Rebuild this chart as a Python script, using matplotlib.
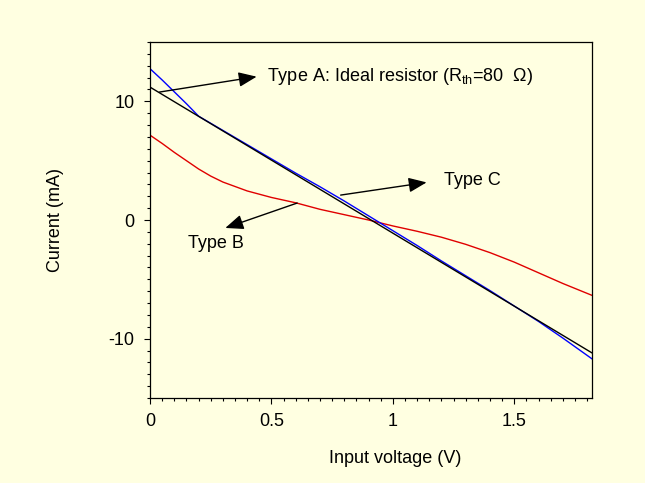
import matplotlib
matplotlib.use("Agg")
import matplotlib.pyplot as plt
from matplotlib.ticker import MultipleLocator

plt.rcParams["font.family"] = ["Liberation Sans", "DejaVu Sans"]
plt.rcParams["mathtext.fontset"] = "custom"
plt.rcParams["mathtext.rm"] = "Liberation Sans"
plt.rcParams["mathtext.it"] = "Liberation Sans:italic"
plt.rcParams["axes.unicode_minus"] = False

# values
volt = [0, 0.05, 0.1, 0.15, 0.2, 0.25, 0.3, 0.4, 0.5, 0.6, 0.7, 0.8, 0.9,
        1.0, 1.1, 1.2, 1.3, 1.4, 1.5, 1.6, 1.7, 1.82]
type_b = [7.15, 6.45, 5.7, 5.0, 4.3, 3.7, 3.2, 2.45, 1.9, 1.45, 0.9, 0.45, 0.0,
          -0.5, -0.95, -1.45, -2.05, -2.75, -3.55, -4.45, -5.35, -6.35]
type_c = [12.75, 11.8, 10.8, 9.8, 8.75, 8.15, 7.55, 6.35, 5.15, 3.95, 2.8, 1.6, 0.35,
          -0.9, -2.15, -3.45, -4.7, -5.95, -7.25, -8.55, -9.95, -11.7]
ideal_v = [0, 1.82]
ideal_i = [11.2, -11.2]

bg = "#FFFFE1"

fig = plt.figure(figsize=(6.45, 4.83), dpi=100, facecolor=bg)
ax = fig.add_axes([0.2326, 0.176, 0.6852, 0.737])
ax.set_facecolor(bg)

ax.plot(volt, type_b, color="#E00000", lw=1.0)
ax.plot(volt, type_c, color="#0000FF", lw=1.0)
ax.plot(ideal_v, ideal_i, color="black", lw=1.0)

ax.set_xlim(0, 1.82)
ax.set_ylim(-15, 15)
ax.xaxis.set_major_locator(MultipleLocator(0.5))
ax.xaxis.set_minor_locator(MultipleLocator(0.05))
ax.yaxis.set_major_locator(MultipleLocator(10))
ax.yaxis.set_minor_locator(MultipleLocator(1))
ax.xaxis.set_major_formatter(plt.FuncFormatter(lambda v, p: f"{v:g}"))
ax.tick_params(which="major", length=4, width=0.8, direction="out", labelsize=13, pad=7)
ax.tick_params(which="minor", length=2.5, width=0.8, direction="out")
for s in ax.spines.values():
    s.set_linewidth(0.9)

ax.set_xlabel("Input voltage (V)", fontsize=13, labelpad=16)
ax.xaxis.set_label_coords(0.554, -0.145)
ax.set_ylabel("Current (mA)", fontsize=13, labelpad=32)

arrow = dict(arrowstyle="-|>,head_length=1.1,head_width=0.45", color="black",
             lw=1.0, mutation_scale=10, shrinkA=0, shrinkB=0)

ax.annotate("", xy=(0.439, 12.08), xytext=(0.038, 10.78), arrowprops=arrow)
ax.text(0.48, 12.1, r"Type A: Ideal resistor (R$_{\rm th}$=80  Ω)",
        fontsize=13, va="center", ha="left")

ax.annotate("", xy=(1.139, 3.17), xytext=(0.785, 2.1), arrowprops=arrow)
ax.text(1.212, 3.36, "Type C", fontsize=13, va="center", ha="left")

ax.annotate("", xy=(0.31, -0.67), xytext=(0.606, 1.43), arrowprops=arrow)
ax.text(0.158, -2.0, "Type B", fontsize=13, va="center", ha="left")

fig.savefig("out.png", dpi=100, facecolor=bg)
